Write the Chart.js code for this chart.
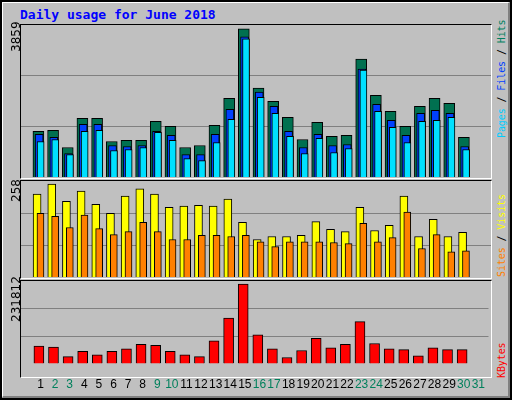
<!DOCTYPE html>
<html><head><meta charset="utf-8">
<script src="https://cdn.jsdelivr.net/npm/chart.js@4"></script>
<style>
html,body{margin:0;padding:0;}
body{width:512px;height:400px;background:#c0c0c0;position:relative;overflow:hidden;font-family:"DejaVu Sans Mono",monospace;}
#frame{position:absolute;left:0;top:0;width:508px;height:396px;border:2px solid #000;box-sizing:content-box;}
#frame2{position:absolute;left:2px;top:2px;width:505px;height:393px;border-top:1px solid #fff;border-left:1px solid #fff;border-right:2px solid #808080;border-bottom:2px solid #808080;}
.panel{position:absolute;left:20px;width:470px;border-top:1px solid #000;border-left:1px solid #000;border-right:1px solid #fff;border-bottom:1px solid #fff;}
canvas{position:absolute;}
#title{position:absolute;left:20px;top:7px;color:#0000ff;font-weight:bold;font-size:13px;}
.rl{position:absolute;transform:rotate(-90deg);transform-origin:left top;white-space:nowrap;font-size:10px;letter-spacing:-0.1px;}
.yl{position:absolute;transform:rotate(-90deg);transform-origin:left top;white-space:nowrap;font-family:"DejaVu Sans",sans-serif;font-size:12px;color:#000;}
</style></head><body>
<div id="frame"></div><div id="frame2"></div>
<div id="title">Daily usage for June 2018</div>
<div class="panel" style="top:24px;height:153px"></div>
<div class="panel" style="top:180px;height:97px"></div>
<div class="panel" style="top:280px;height:96px"></div>
<canvas id="c1" style="left:21px;top:25px;width:470px;height:152px"></canvas>
<canvas id="c2" style="left:21px;top:181px;width:470px;height:96px"></canvas>
<canvas id="c3" style="left:21px;top:281px;width:470px;height:117px"></canvas>
<div class="yl" style="left:9px;top:52px">3859</div>
<div class="yl" style="left:9px;top:202px">258</div>
<div class="yl" style="left:9px;top:322px">231812</div>
<div class="rl" style="left:496px;top:138px"><span style="color:#00ccff">Pages</span> / <span style="color:#0040ff">Files</span> / <span style="color:#008060">Hits</span></div>
<div class="rl" style="left:496px;top:277px"><span style="color:#ff8000">Sites</span> / <span style="color:#ffff00">Visits</span></div>
<div class="rl" style="left:496px;top:378px"><span style="color:#ff0000">KBytes</span></div>
<script>
const days=[1,2,3,4,5,6,7,8,9,10,11,12,13,14,15,16,17,18,19,20,21,22,23,24,25,26,27,28,29,30,31];
const weekend=[2,3,9,10,16,17,23,24,30,31];
const hits=[1157,1183,749,1489,1489,902,928,928,1413,1285,749,800,1311,2000,3761,2255,1923,1515,953,1387,1030,1055,2996,2076,1668,1285,1796,2000,1872,1004,0];
const files=[1081,1004,596,1336,1336,800,774,800,1157,1055,570,570,1081,1719,3557,2153,1796,1157,749,1081,800,825,2740,1847,1438,1055,1617,1693,1617,774,0];
const pages=[902,953,570,1157,1183,672,698,749,1132,928,468,417,877,1464,3506,2025,1617,1030,596,979,621,723,2715,1668,1259,877,1413,1438,1515,698,0];
const visits=[221,248,202,229,194,170,216,235,221,186,189,191,189,208,146,100,108,108,111,148,127,121,186,124,138,216,108,154,108,119,0];
const sites=[170,162,132,165,129,113,121,146,121,100,100,111,111,108,111,94,81,94,94,94,92,89,143,94,105,173,76,113,67,70,0];
const kbytes=[48960,46500,19600,34300,24500,34300,41600,53900,51400,34300,24500,19600,63600,127300,222800,80800,41600,17100,36700,71000,44100,53900,117500,56300,41600,39200,22000,44100,39200,39200,0];
const maxTop=3859, maxMid=258*287/276*0.955, maxBot=231812*284/273*0.96;

function pts(arr,off){return days.map((d,i)=>({x:d+off,y:arr[i]}));}
function ds(arr,off,color,w,order){return {data:pts(arr,off),backgroundColor:color,borderColor:'#000',borderWidth:1,barThickness:w,grouped:false,borderSkipped:'bottom',order:order};}
function opts(max,showX){
 return {responsive:false,animation:false,devicePixelRatio:1,
  layout:{padding:0},
  plugins:{legend:{display:false},tooltip:{enabled:false}},
  scales:{
   x:{type:'linear',min:0.18,max:31.18,display:showX,
      afterBuildTicks:a=>{a.ticks=days.map(v=>({value:v}));},
      grid:{display:false},border:{display:false},
      ticks:{padding:6,autoSkip:false,maxRotation:0,font:{family:'Liberation Sans',size:12},
        color:c=>weekend.includes(c.tick.value)?'#00805c':'#000',callback:v=>String(v)}},
   y:{min:0,max:max,display:true,
      afterBuildTicks:a=>{a.ticks=[{value:max/3},{value:2*max/3}];},
      ticks:{display:false},border:{display:false},
      grid:{color:'#808080',lineWidth:1,drawTicks:false}}
  }};
}
function mk(id,w,h,datasets,max,showX){
 const c=document.getElementById(id);c.width=w;c.height=h;
 new Chart(c,{type:'bar',data:{datasets},options:opts(max,showX)});
}
mk('c1',470,152,[ds(hits,-0.15,'#007050',11,3),ds(files,-0.1,'#0040ff',8,2),ds(pages,0.0,'#00e0ff',7,1)],maxTop,false);
mk('c2',470,96,[ds(visits,-0.24,'#ffff00',8,2),ds(sites,-0.01,'#ff8000',7,1)],maxMid,false);
mk('c3',470,117,[ds(kbytes,-0.11,'#ff0000',10,1)],maxBot,true);
</script>
</body></html>
